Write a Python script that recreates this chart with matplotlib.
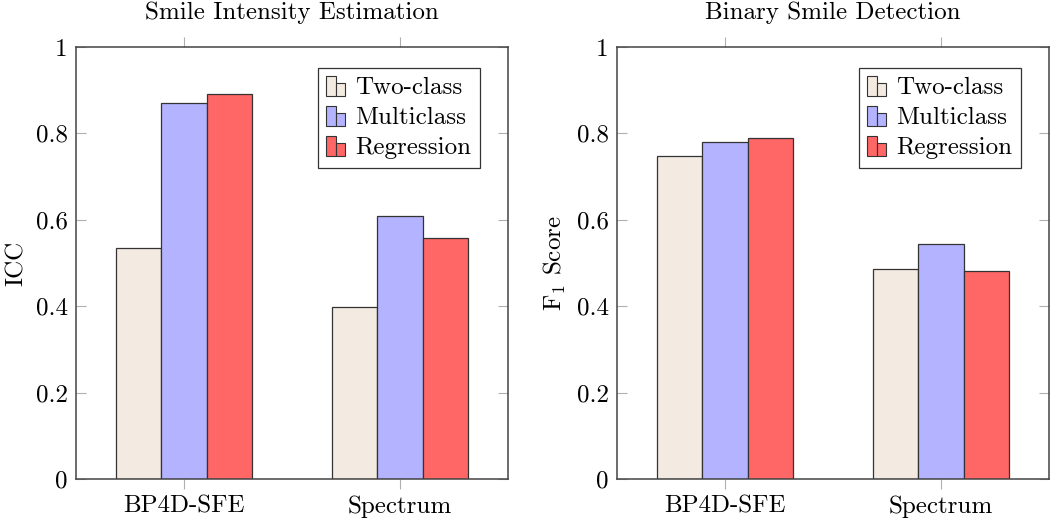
import numpy as np
import matplotlib
matplotlib.use("Agg")
import matplotlib.pyplot as plt
from matplotlib.patches import Rectangle
from matplotlib.legend_handler import HandlerBase
from matplotlib.ticker import FuncFormatter

# data
datasets = ["BP4D-SFE", "Spectrum"]
methods = ["Two-class", "Multiclass", "Regression"]
icc = {
    "Two-class": [0.535, 0.398],
    "Multiclass": [0.870, 0.608],
    "Regression": [0.892, 0.557],
}
f1 = {
    "Two-class": [0.747, 0.485],
    "Multiclass": [0.780, 0.543],
    "Regression": [0.790, 0.481],
}
titles = ["Smile Intensity Estimation", "Binary Smile Detection"]
ylabels = ["ICC", r"F$_1$ Score"]
yticks = [0, 0.2, 0.4, 0.6, 0.8, 1]

colors = {"Two-class": "#f3ebe1", "Multiclass": "#b3b3ff", "Regression": "#ff6666"}
edge = "#333333"
tickcol = "#b0b0b0"

plt.rcParams["font.family"] = ["cmr10", "DejaVu Serif"]
plt.rcParams["mathtext.fontset"] = "cm"
plt.rcParams["axes.formatter.use_mathtext"] = True
plt.rcParams["font.size"] = 18


class BarPairHandler(HandlerBase):
    # pgfplots style "ybar legend": two little bars side by side
    def create_artists(self, legend, orig_handle, xdescent, ydescent,
                       width, height, fontsize, trans):
        fc = orig_handle.get_facecolor()
        w = width / 2.0
        h = height * 1.15
        y0 = -ydescent - height * 0.1
        r1 = Rectangle((-xdescent, y0), w, h, facecolor=fc,
                       edgecolor=edge, linewidth=0.8, transform=trans)
        r2 = Rectangle((-xdescent + w, y0), w, h * 0.65, facecolor=fc,
                       edgecolor=edge, linewidth=0.8, transform=trans)
        return [r1, r2]


fig = plt.figure(figsize=(10.5, 5.21), dpi=100)
W, H = 1050.0, 521.0
ax_left = [76 / W, 617 / W]
axes = [fig.add_axes([l, 42 / H, 432 / W, 432 / H]) for l in ax_left]

x = np.arange(len(datasets))
bw = 0.21
for ax, data, title, ylab in zip(axes, [icc, f1], titles, ylabels):
    for i, m in enumerate(methods):
        ax.bar(x + (i - 1) * bw, data[m], bw, color=colors[m],
               edgecolor=edge, linewidth=0.9, zorder=2)
    ax.set_xlim(-0.5, 1.5)
    ax.set_ylim(0, 1)
    ax.set_xticks(x)
    ax.set_xticklabels(datasets)
    ax.set_yticks(yticks)
    ax.yaxis.set_major_formatter(FuncFormatter(lambda v, p: "%g" % v))
    ax.tick_params(axis="x", direction="out", length=7, width=0.8,
                   color=tickcol, top=True, pad=5)
    ax.tick_params(axis="y", direction="in", length=7, width=0.8,
                   color=tickcol, right=True, pad=6)
    for s in ax.spines.values():
        s.set_color("#444444")
        s.set_linewidth(1.1)
    ax.set_title(title, pad=20, fontsize=18)
    ax.set_ylabel(ylab, labelpad=6)

    handles = [Rectangle((0, 0), 1, 1, facecolor=colors[m]) for m in methods]
    leg = ax.legend(handles, methods, loc="upper right",
                    bbox_to_anchor=(0.935, 0.951), borderaxespad=0,
                    handler_map={Rectangle: BarPairHandler()},
                    handlelength=0.75, handletextpad=0.4, labelspacing=0.3,
                    borderpad=0.35, fancybox=False, framealpha=1,
                    edgecolor=edge)
    leg.get_frame().set_linewidth(0.9)

fig.savefig("out.png", dpi=100)
